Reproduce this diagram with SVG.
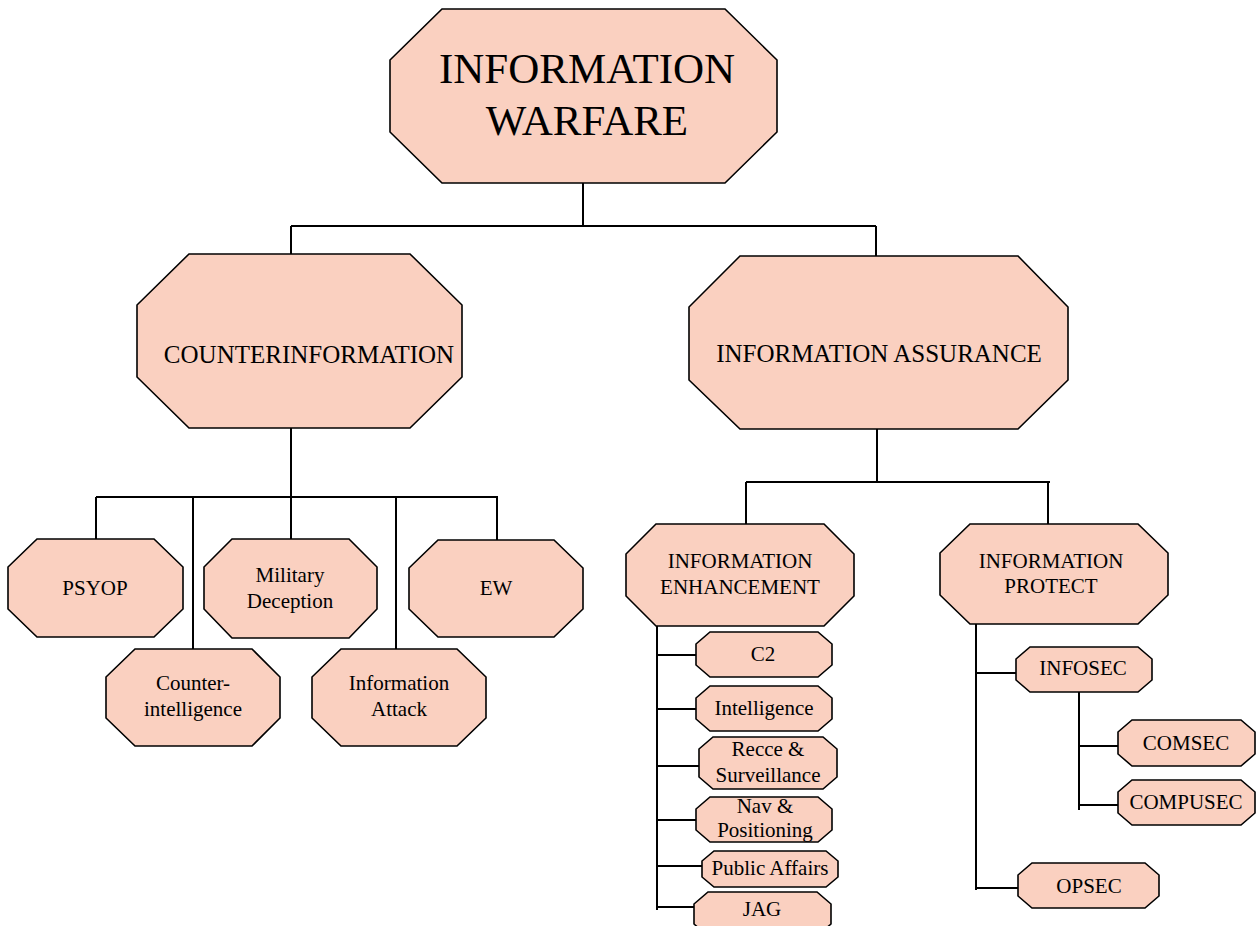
<svg xmlns="http://www.w3.org/2000/svg" width="1259" height="926" viewBox="0 0 1259 926">
<style>
.n{fill:#FAD0C0;stroke:#000;stroke-width:1.6}
.c{stroke:#000;stroke-width:2;fill:none}
text{font-family:'Liberation Serif','DejaVu Serif',serif;fill:#000;text-anchor:middle}
.s{font-size:21px}
.m{font-size:25px}
.t{font-size:43px}
</style>
<rect width="1259" height="926" fill="#fff"/>
<g id="connectors" class="c">
<path d="M583,183V227M291,226H876M291,226V254M876,226V256"/>
<path d="M291,428V540M96,497H498M96,497V540M193,497V649M396,497V649M497,497V540"/>
<path d="M877,429V483M746,482H1050M746,482V524M1048,482V524"/>
<path d="M657,626V910M657,655H700M657,709H700M657,766H703M657,820H700M657,866H706M657,907H698"/>
<path d="M976,624V890M976,673H1018M976,888H1020"/>
<path d="M1079,692V810M1079,746H1120M1079,805H1120"/>
</g>
<g id="information-warfare">
<polygon class="n" points="442,9 725,9 777,60 777,132 725,183 442,183 390,132 390,60"/>
<text class="t" x="587" y="83" font-family="Liberation Serif">INFORMATION</text>
<text class="t" x="587" y="135">WARFARE</text>
</g>
<g id="counterinformation">
<polygon class="n" points="189,254 410,254 462,305 462,377 410,428 189,428 137,377 137,305"/>
<text class="m" x="309" y="363">COUNTERINFORMATION</text>
</g>
<g id="information-assurance">
<polygon class="n" points="740,256 1018,256 1068,307 1068,380 1018,429 740,429 689,380 689,307"/>
<text class="m" x="879" y="362">INFORMATION ASSURANCE</text>
</g>
<g id="psyop">
<polygon class="n" points="37,539 154,539 183,567 183,609 154,637 37,637 8,609 8,567"/>
<text class="s" x="95" y="595">PSYOP</text>
</g>
<g id="military-deception">
<polygon class="n" points="232,539 349,539 377,567 377,609 349,638 232,638 204,609 204,567"/>
<text class="s" x="290" y="582">Military</text>
<text class="s" x="290" y="608">Deception</text>
</g>
<g id="ew">
<polygon class="n" points="438,540 554,540 583,568 583,609 554,637 438,637 409,609 409,568"/>
<text class="s" x="496" y="595">EW</text>
</g>
<g id="counter-intelligence">
<polygon class="n" points="135,649 252,649 280,677 280,718 252,746 135,746 106,718 106,677"/>
<text class="s" x="193" y="690">Counter-</text>
<text class="s" x="193" y="716">intelligence</text>
</g>
<g id="information-attack">
<polygon class="n" points="341,649 457,649 486,677 486,718 457,746 341,746 312,718 312,677"/>
<text class="s" x="399" y="690">Information</text>
<text class="s" x="399" y="716">Attack</text>
</g>
<g id="information-enhancement">
<polygon class="n" points="656,524 824,524 854,554 854,596 824,626 656,626 626,596 626,554"/>
<text class="s" x="740" y="568">INFORMATION</text>
<text class="s" x="740" y="594">ENHANCEMENT</text>
</g>
<g id="information-protect">
<polygon class="n" points="970,524 1138,524 1168,553 1168,595 1138,624 970,624 940,595 940,553"/>
<text class="s" x="1051" y="568">INFORMATION</text>
<text class="s" x="1051" y="593">PROTECT</text>
</g>
<g id="c2">
<polygon class="n" points="710,632 818,632 832,644 832,665 818,677 710,677 696,665 696,644"/>
<text class="s" x="763" y="661">C2</text>
</g>
<g id="intelligence">
<polygon class="n" points="710,686 818,686 832,698 832,719 818,731 710,731 696,719 696,698"/>
<text class="s" x="764" y="715">Intelligence</text>
</g>
<g id="recce-surveillance">
<polygon class="n" points="713,737 823,737 837,749 837,777 823,789 713,789 699,777 699,749"/>
<text class="s" x="768" y="756">Recce &amp;</text>
<text class="s" x="768" y="782">Surveillance</text>
</g>
<g id="nav-positioning">
<polygon class="n" points="710,797 818,797 832,809 832,830 818,842 710,842 696,830 696,809"/>
<text class="s" x="765" y="813">Nav &amp;</text>
<text class="s" x="765" y="837">Positioning</text>
</g>
<g id="public-affairs">
<polygon class="n" points="714,851 826,851 838,861 838,877 826,887 714,887 702,877 702,861"/>
<text class="s" x="770" y="875">Public Affairs</text>
</g>
<g id="jag">
<polygon class="n" points="708,892 817,892 831,904 831,924 817,936 708,936 694,924 694,904"/>
<text class="s" x="762" y="916">JAG</text>
</g>
<g id="infosec">
<polygon class="n" points="1030,647 1138,647 1152,659 1152,680 1138,692 1030,692 1016,680 1016,659"/>
<text class="s" x="1083" y="675">INFOSEC</text>
</g>
<g id="comsec">
<polygon class="n" points="1132,720 1241,720 1255,732 1255,754 1241,766 1132,766 1118,754 1118,732"/>
<text class="s" x="1186" y="750">COMSEC</text>
</g>
<g id="compusec">
<polygon class="n" points="1132,780 1241,780 1255,792 1255,813 1241,825 1132,825 1118,813 1118,792"/>
<text class="s" x="1186" y="809">COMPUSEC</text>
</g>
<g id="opsec">
<polygon class="n" points="1032,863 1145,863 1159,875 1159,896 1145,908 1032,908 1018,896 1018,875"/>
<text class="s" x="1089" y="893">OPSEC</text>
</g>
</svg>
